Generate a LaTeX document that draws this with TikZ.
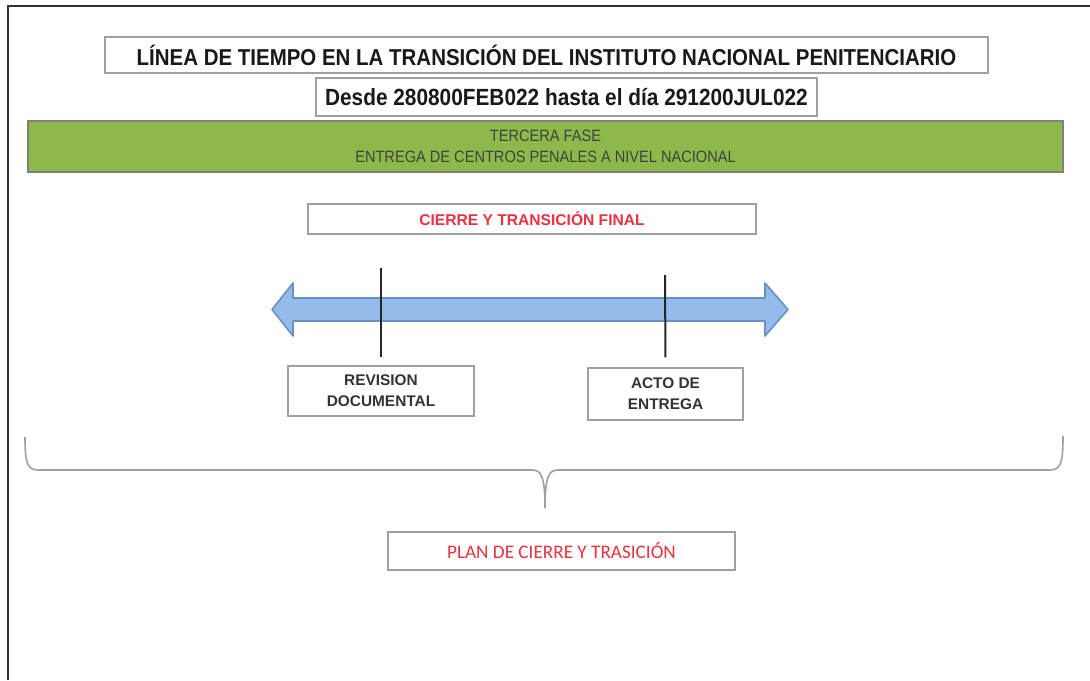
\documentclass[tikz,border=0pt]{standalone}
\usepackage{fontspec}
\setmainfont{Liberation Sans}
\newfontfamily\narrowfont[FakeStretch=0.89]{Liberation Sans}
\newfontfamily\calfont{Carlito}
\usetikzlibrary{positioning}

\definecolor{verdefase}{HTML}{8DB94B}
\definecolor{azulflecha}{HTML}{93BCEA}
\definecolor{bordeflecha}{HTML}{6A8FC4}
\definecolor{rojotexto}{HTML}{E8323F}
\definecolor{grisborde}{HTML}{A0A0A0}
\definecolor{gristexto}{HTML}{333333}

\tikzset{
  caja/.style={draw=grisborde, fill=white, line width=0.6pt, inner sep=0pt, align=center},
  hito/.style={caja, font=\fontsize{7.7}{10.5}\selectfont\bfseries, text=gristexto},
  marca/.style={line width=1pt, black!85},
  llave/.style={draw=grisborde, line width=0.8pt}
}

\begin{document}
\begin{tikzpicture}[x=0.5pt, y=-0.5pt]
            \useasboundingbox (0,0) rectangle (1090,680);

            % Draw page frame
            \draw[line width=1pt, black!80] (8,680) -- (8,6) -- (1090,6);

            % Draw headings
            \node[caja, minimum width=441.5pt, minimum height=18pt,
                  font=\narrowfont\fontsize{11.5}{13}\selectfont\bfseries, text=black!90]
                  (titulo) at (546.5,55) {LÍNEA DE TIEMPO EN LA TRANSICIÓN DEL INSTITUTO NACIONAL PENITENCIARIO};
            \node[caja, minimum width=250.5pt, minimum height=19pt,
                  font=\narrowfont\fontsize{11.7}{13}\selectfont\bfseries, text=black!90]
                  (fechas) at (566.5,97) {Desde 280800FEB022 hasta el día 291200JUL022};
            \node[caja, fill=verdefase, draw=gray, minimum width=517.5pt, minimum height=25.5pt,
                  font=\narrowfont\fontsize{8.2}{10.5}\selectfont, text=black!75]
                  (fase) at (545.5,146.5) {TERCERA FASE\\ENTREGA DE CENTROS PENALES A NIVEL NACIONAL};
            \node[caja, minimum width=224pt, minimum height=15pt,
                  font=\fontsize{7.8}{9}\selectfont\bfseries, text=rojotexto]
                  (cierre) at (532,219) {CIERRE Y TRANSICIÓN FINAL};

            % Draw the double arrow of the timeline
            \def\ytl{309.5}
            \coordinate (tlIzq) at (272,\ytl);
            \coordinate (tlDer) at (788,\ytl);
            \draw[fill=azulflecha, draw=bordeflecha, line width=0.8pt, line join=round]
                  (tlIzq) -- (293,283) -- (293,298) -- (765,298) -- (765,283) -- (tlDer)
                  -- (765,336) -- (765,321) -- (293,321) -- (293,336) -- cycle;

            % Draw milestones
            \node[hito, minimum width=93pt, minimum height=25pt] (revision) at (381,391) {REVISION\\DOCUMENTAL};
            \node[hito, minimum width=77.5pt, minimum height=26pt] (acto) at (665.5,394) {ACTO DE\\ENTREGA};
            \coordinate (m1) at (381,268);
            \coordinate (m2) at (665,275);
            \draw[marca, shorten >=4pt] (m1) -- (revision.north);
            \draw[marca, shorten >=5pt] (m2) -- (acto.north);

            % Draw brace
            \coordinate (llIzq) at (25,437);
            \coordinate (llPunta) at (545,508);
            \coordinate (llDer) at (1063,436);
            \draw[llave] (llIzq) .. controls (25,462) and (27,470) .. (38,470) -- (532,470)
                  .. controls (541,470) and (545,476) .. (llPunta);
            \draw[llave] (llPunta) .. controls (545,476) and (549,470) .. (558,470) -- (1050,470)
                  .. controls (1061,470) and (1063,462) .. (llDer);

            % Draw plan
            \node[caja, minimum width=173.5pt, minimum height=19pt,
                  font=\calfont\fontsize{9.6}{11}\selectfont, text=rojotexto]
                  (plan) at (561.5,551) {PLAN DE CIERRE Y TRASICIÓN};

\end{tikzpicture}
\end{document}
